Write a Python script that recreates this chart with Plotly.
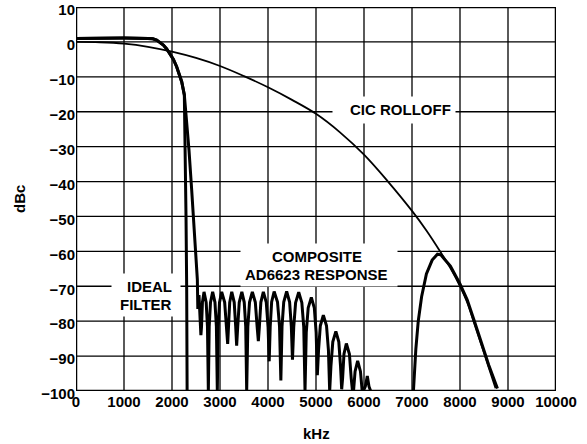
import plotly.graph_objects as go

# ---------------- data ----------------
cic_khz = [0, 500, 1000, 1500, 2000, 2500, 3000, 3500, 4000, 4500, 5000, 5500,
           6000, 6500, 7000, 7300, 7600, 7800, 8000, 8150, 8300, 8450, 8600, 8740]
cic_db = [0.0, -0.1, -0.5, -1.4, -2.8, -4.6, -6.9, -9.8, -13.0, -16.6, -20.6, -25.9,
          -32.3, -40.0, -48.4, -54.0, -60.3, -64.8, -70.0, -74.6, -80.8, -87.0, -93.3, -99.2]

ideal_khz = [0, 500, 1000, 1500, 1600, 1680, 1760, 1820, 1890, 1958, 2030, 2097,
             2150, 2202, 2257, 2275, 2292, 2306, 2315]
ideal_db = [1.0, 1.1, 1.1, 1.0, 0.9, 0.5, -0.2, -0.9, -2.0, -3.3, -5.0, -7.1,
            -9.2, -11.4, -15.2, -30.0, -50.0, -71.0, -100.0]

# composite: passband + transition
comp_pass_khz = [0, 500, 1000, 1500, 1600, 1680, 1760, 1820, 1890, 1958, 2030, 2097,
                 2150, 2202, 2257, 2306, 2354, 2410, 2479, 2510, 2528, 2538, 2562, 2602]
comp_pass_db = [1.0, 1.1, 1.1, 1.0, 0.9, 0.5, -0.2, -0.9, -2.0, -3.3, -5.0, -7.1,
                -9.2, -11.4, -15.2, -22.4, -31.0, -42.4, -56.7, -63.0, -68.0, -76.5, -72.5, -84.0]

# composite: stopband ripple lobes
comp_ripple_khz = [2615, 2634, 2667, 2712, 2739, 2757,
                   2775, 2802, 2847, 2895, 2925, 2944,
                   2962, 2990, 3035, 3097, 3135, 3160,
                   3177, 3202, 3245, 3296, 3327, 3347,
                   3369, 3401, 3455, 3505, 3536, 3556,
                   3580, 3615, 3674, 3736, 3774, 3799,
                   3820, 3851, 3903, 3964, 4001, 4025,
                   4046, 4076, 4128, 4198, 4240, 4268,
                   4292, 4328, 4389, 4450, 4486, 4510,
                   4536, 4575, 4640, 4705, 4745, 4771,
                   4797, 4837, 4903, 4965, 5003, 5028,
                   5053, 5090, 5153, 5219, 5259, 5285,
                   5311, 5350, 5414, 5475, 5511, 5535,
                   5554, 5583, 5632, 5696, 5734, 5760,
                   5782, 5814, 5868, 5926, 5962, 5985,
                   6027, 6069, 6104, 6139]
comp_ripple_db = [-81.6, -74.6, -71.6, -74.6, -81.6, -100.0,
                  -81.6, -74.6, -71.6, -74.6, -81.6, -100.0,
                  -81.6, -74.6, -71.6, -74.6, -81.6, -86.5,
                  -81.6, -74.6, -71.6, -74.6, -81.6, -87.0,
                  -81.6, -74.6, -71.6, -74.6, -81.6, -100.0,
                  -81.6, -74.6, -71.6, -74.6, -81.6, -85.7,
                  -81.6, -74.6, -71.6, -74.6, -81.6, -91.5,
                  -81.5, -74.5, -71.5, -74.5, -81.5, -97.0,
                  -81.5, -74.5, -71.5, -74.5, -81.5, -91.0,
                  -81.7, -74.7, -71.7, -74.7, -81.7, -100.0,
                  -83.2, -76.2, -73.2, -76.2, -83.2, -95.5,
                  -88.3, -81.3, -78.3, -81.3, -88.3, -100.0,
                  -92.9, -85.9, -82.9, -85.9, -92.9, -99.5,
                  -96.4, -89.4, -86.4, -89.4, -96.4, -100.0,
                  -100.0, -94.4, -91.4, -94.4, -100.0, -100.0,
                  -98.7, -95.7, -98.7, -100.0]

# composite: image lobe near 7.5 MHz riding on the CIC rolloff
comp_image_khz = [7030, 7080, 7130, 7200, 7300, 7420, 7530, 7600, 7700, 7800,
                  8000, 8150, 8300, 8450, 8600, 8780]
comp_image_db = [-100.0, -88.0, -80.0, -73.0, -66.5, -62.5, -60.8, -61.0, -62.6, -64.2,
                 -69.3, -73.9, -80.0, -86.3, -92.6, -99.3]

x_ticks = [0, 1000, 2000, 3000, 4000, 5000, 6000, 7000, 8000, 9000, 10000]
y_ticks = [10, 0, -10, -20, -30, -40, -50, -60, -70, -80, -90, -100]

FONT = "Liberation Sans, Arial, Helvetica, sans-serif"
X_MIN, X_MAX = x_ticks[0], x_ticks[-1]
Y_MIN, Y_MAX = y_ticks[-1], y_ticks[0]

fig = go.Figure()

# grid: one segment per tick value, through the axes' own scales
gx, gy = [], []
for xv in x_ticks[1:-1]:
    gx += [xv, xv, None]
    gy += [Y_MIN, Y_MAX, None]
for yv in y_ticks[1:-1]:
    gx += [X_MIN, X_MAX, None]
    gy += [yv, yv, None]
fig.add_trace(go.Scatter(x=gx, y=gy, mode="lines", hoverinfo="skip",
                         line=dict(color="black", width=1.3), name="grid"))

comp_x = comp_pass_khz + comp_ripple_khz + [None] + comp_image_khz
comp_y = comp_pass_db + comp_ripple_db + [None] + comp_image_db

fig.add_trace(go.Scatter(x=ideal_khz, y=ideal_db, mode="lines",
                         line=dict(color="black", width=3), name="Ideal filter"))
fig.add_trace(go.Scatter(x=comp_x, y=comp_y, mode="lines", connectgaps=False,
                         line=dict(color="black", width=3), name="Composite"))
fig.add_trace(go.Scatter(x=cic_khz, y=cic_db, mode="lines", line_shape="spline",
                         line=dict(color="black", width=1.8), name="CIC rolloff"))

# plot frame
fig.add_trace(go.Scatter(x=[X_MIN, X_MAX, X_MAX, X_MIN, X_MIN],
                         y=[Y_MIN, Y_MIN, Y_MAX, Y_MAX, Y_MIN], mode="lines",
                         cliponaxis=False, hoverinfo="skip",
                         line=dict(color="black", width=2.5), name="frame"))

# white boxes behind the labels (hide the grid lines there)
for cx, cy, w, h in [(6625, -19.5, 122, 26),
                     (5056, -64.0, 156, 42),
                     (1455, -72.6, 68, 42)]:
    fig.add_annotation(text=" ", x=cx, y=cy, xref="x", yref="y", showarrow=False,
                       width=w, height=h, bgcolor="white", borderpad=0,
                       xanchor="center", yanchor="middle")

ann_font = dict(family=FONT, size=15, color="black")
labels = [
    ("CIC ROLLOFF", 6760, -19.3, "center"),
    ("COMPOSITE", 5015, -61.6, "center"),
    ("AD6623 RESPONSE", 5015, -66.7, "center"),
    ("IDEAL", 2027, -70.1, "right"),
    ("FILTER", 2027, -75.2, "right"),
]
for txt, x, y, anchor in labels:
    fig.add_annotation(text="<b>" + txt + "</b>", x=x, y=y, xref="x", yref="y",
                       showarrow=False, xanchor=anchor, yanchor="middle",
                       font=ann_font, borderpad=0)

title_font = dict(family=FONT, size=15, color="black")
fig.add_annotation(text="<b>dBc</b>", xref="paper", yref="paper", x=-0.119, y=0.5,
                   showarrow=False, textangle=-90, font=title_font,
                   xanchor="center", yanchor="middle")
fig.add_annotation(text="<b>kHz</b>", xref="paper", yref="paper", x=0.5, y=-0.11,
                   showarrow=False, font=title_font, xanchor="center", yanchor="middle")

tick_font = dict(family=FONT, size=15, color="black")
axis_style = dict(showgrid=False, zeroline=False, showline=False,
                  ticks="", tickfont=tick_font, automargin=False,
                  ticklabeloverflow="allow")
fig.update_xaxes(range=[X_MIN, X_MAX], tickmode="array", tickvals=x_ticks,
                 ticktext=["<b>%d</b>" % v for v in x_ticks], **axis_style)
fig.update_yaxes(range=[Y_MIN, Y_MAX], tickmode="array", tickvals=y_ticks,
                 ticktext=[("<b>\u2212%d</b>" % -v) if v < 0 else ("<b>%d</b>" % v)
                           for v in y_ticks],
                 ticklabelshift=3, **axis_style)

fig.update_layout(template="none", width=587, height=444,
                  margin=dict(l=76, r=31, t=7, b=53),
                  plot_bgcolor="white", paper_bgcolor="white", showlegend=False)

fig.write_html("out.html", config={"displayModeBar": False},
               post_script="document.body.style.margin='0';")
